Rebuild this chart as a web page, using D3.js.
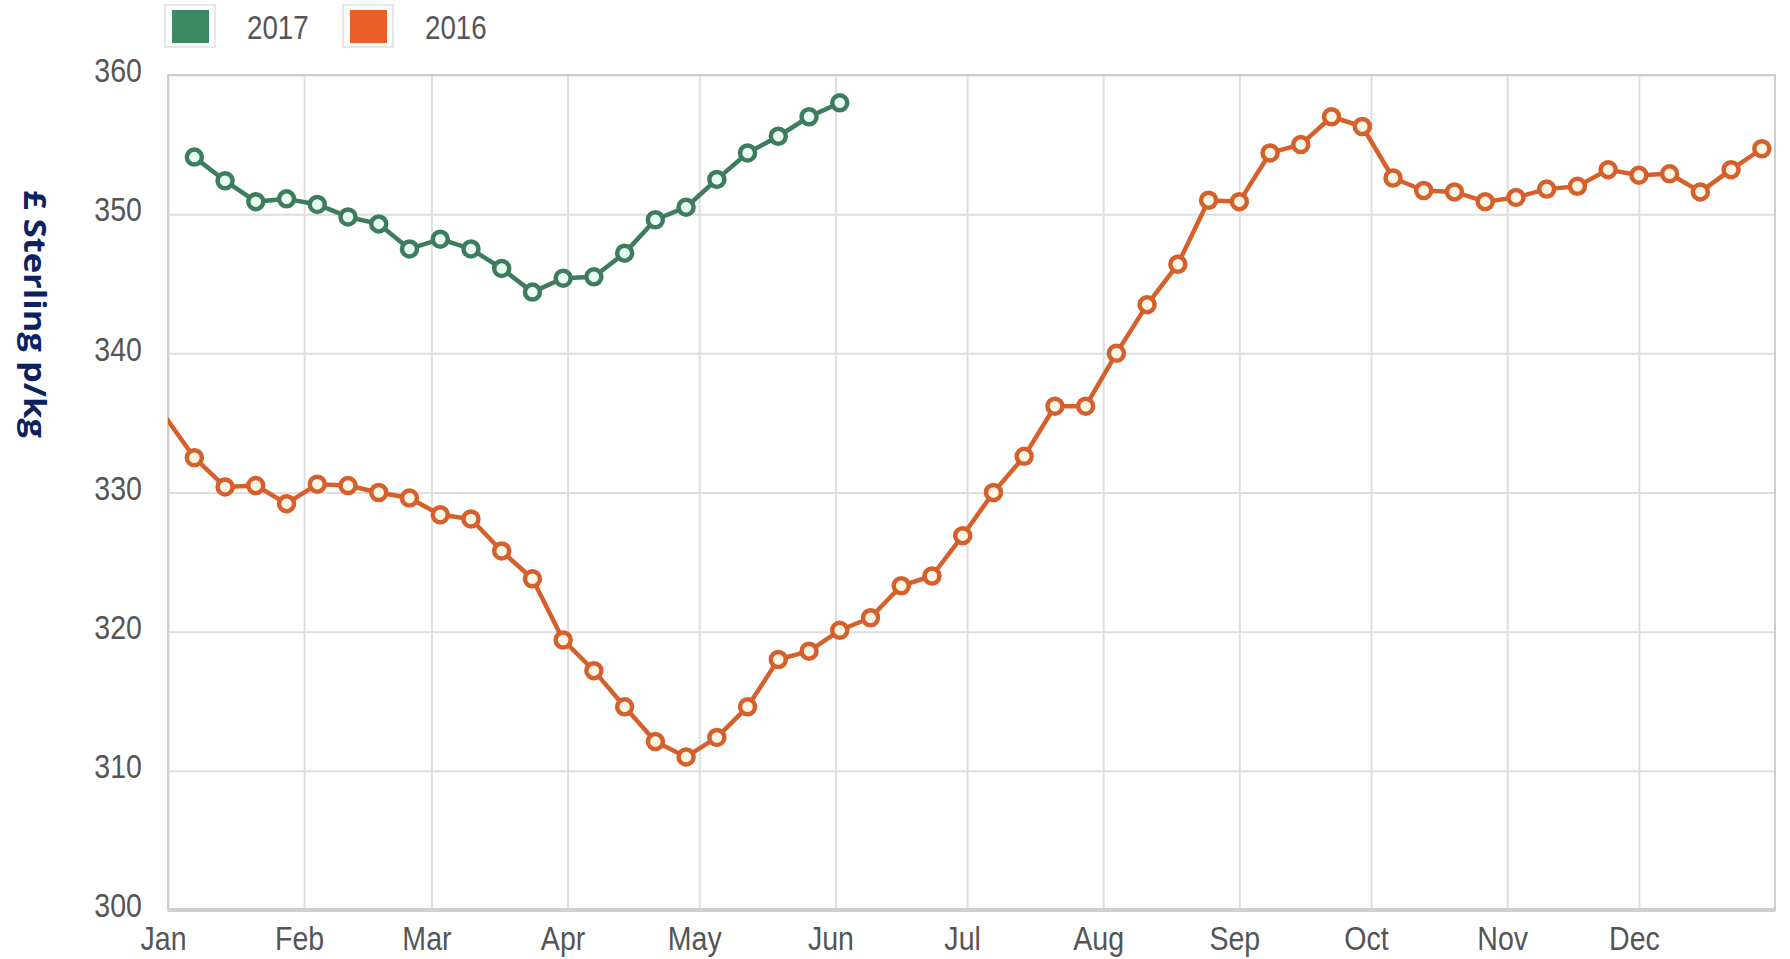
<!DOCTYPE html>
<html>
<head>
<meta charset="utf-8">
<script src="https://cdn.jsdelivr.net/npm/d3@7"></script>
<style>
  body { margin: 0; background: #fff; }
  text { font-family: "Liberation Sans", Arial, sans-serif; }
</style>
</head>
<body>
<svg id="chart" width="1790" height="959"></svg>
<script>
// weekly prices, p/kg
const seriesNames = ["2017", "2016"];
const yTicks = [300, 310, 320, 330, 340, 350, 360];
const firstWeek = "2016-01-07";
const leadIn2016 = { date: "2015-12-31", value: 335.6 };

const values2016 = [
  332.5, 330.4, 330.5, 329.2, 330.6, 330.5, 330.0, 329.6, 328.4, 328.1,
  325.8, 323.8, 319.4, 317.2, 314.6, 312.1, 311.0, 312.4, 314.6, 318.0,
  318.6, 320.1, 321.0, 323.3, 324.0, 326.9, 330.0, 332.6, 336.2, 336.2,
  340.0, 343.5, 346.4, 351.0, 350.9, 354.4, 355.0, 357.0, 356.3, 352.6,
  351.7, 351.6, 350.9, 351.2, 351.8, 352.0, 353.2, 352.8, 352.9, 351.6,
  353.2, 354.7
];

const values2017 = [
  354.1, 352.4, 350.9, 351.1, 350.7, 349.8, 349.3, 347.5, 348.2, 347.5,
  346.1, 344.4, 345.4, 345.5, 347.2, 349.6, 350.5, 352.5, 354.4, 355.6,
  357.0, 358.0
];

const colors = {
  "2017": { line: "#3e7d5c", fill: "#e9fff4", legend: "#3b8a62" },
  "2016": { line: "#d5602c", fill: "#fff7e6", legend: "#e85f2a" }
};

const W = 1790, H = 959;
const margin = { top: 75, right: 15, bottom: 49, left: 168 };
const pw = W - margin.left - margin.right;
const ph = H - margin.top - margin.bottom;
const squeeze = 0.84; // labels in the source are horizontally condensed

const parse = d3.timeParse("%Y-%m-%d");
const start = parse(firstWeek);
const weekDate = i => d3.timeDay.offset(start, 7 * i);

const data2016 = [{ date: parse(leadIn2016.date), value: leadIn2016.value, lead: true }]
  .concat(values2016.map((v, i) => ({ date: weekDate(i), value: v })));
const data2017 = values2017.map((v, i) => ({ date: weekDate(i), value: v }));

const svg = d3.select("#chart");
const g = svg.append("g").attr("transform", `translate(${margin.left},${margin.top})`);

const x0 = new Date(2016, 0, 1), x1 = new Date(2017, 0, 1);
const x = d3.scaleTime().domain([x0, x1]).range([0, pw]);
const y = d3.scaleLinear().domain([300, 360]).range([ph, 0]);

// grid + axes
const xAxis = g.append("g")
  .attr("transform", `translate(0,${ph})`)
  .call(d3.axisBottom(x)
    .tickValues(d3.timeMonth.range(x0, x1))
    .tickFormat(d3.timeFormat("%b"))
    .tickSize(-ph)
    .tickSizeOuter(0));
xAxis.select(".domain").remove();
xAxis.selectAll(".tick line").attr("stroke", "#dedede").attr("stroke-width", 2);
xAxis.selectAll(".tick text")
  .attr("x", 0).attr("y", 0).attr("dy", 0)
  .attr("transform", `translate(-5,40) scale(${squeeze},1)`)
  .attr("fill", "#555").style("font-size", "34px");

const yAxis = g.append("g")
  .call(d3.axisLeft(y)
    .tickValues(yTicks)
    .tickSize(-pw)
    .tickSizeOuter(0));
yAxis.select(".domain").remove();
yAxis.selectAll(".tick line").attr("stroke", "#dedede").attr("stroke-width", 2);
yAxis.selectAll(".tick text")
  .attr("x", 0).attr("dy", "0.2em")
  .attr("transform", `translate(-26,0) scale(${squeeze},1)`)
  .attr("fill", "#555").style("font-size", "34px");

// frame
g.append("rect")
  .attr("width", pw).attr("height", ph)
  .attr("fill", "none").attr("stroke", "#cdcdcd").attr("stroke-width", 2);
g.append("line")
  .attr("x1", 0).attr("x2", pw).attr("y1", ph).attr("y2", ph)
  .attr("stroke", "#cfcfcf").attr("stroke-width", 4);

// clip
svg.append("clipPath").attr("id", "plotclip")
  .append("rect").attr("width", pw).attr("height", ph);

const line = d3.line().x(d => x(d.date)).y(d => y(d.value));

function drawSeries(name, data) {
  const c = colors[name];
  const s = g.append("g");
  s.append("path")
    .datum(data)
    .attr("clip-path", "url(#plotclip)")
    .attr("fill", "none")
    .attr("stroke", c.line)
    .attr("stroke-width", 4.5)
    .attr("stroke-linejoin", "round")
    .attr("d", line);
  s.selectAll("circle")
    .data(data.filter(d => !d.lead))
    .join("circle")
    .attr("cx", d => x(d.date))
    .attr("cy", d => y(d.value))
    .attr("r", 7.5)
    .attr("fill", c.fill)
    .attr("stroke", c.line)
    .attr("stroke-width", 4.5);
}

drawSeries("2016", data2016);
drawSeries("2017", data2017);

// y axis title
svg.append("text")
  .attr("transform", "translate(24,314) rotate(90)")
  .attr("text-anchor", "middle")
  .attr("textLength", 248)
  .attr("lengthAdjust", "spacingAndGlyphs")
  .style("font-family", "'Open Sans', 'DejaVu Sans', sans-serif")
  .style("font-weight", "bold")
  .style("font-size", "30px")
  .attr("fill", "#0d2160")
  .text("£ Sterling p/kg");

// legend
const legendX = [165, 343];
const legend = svg.append("g");
seriesNames.forEach((name, i) => {
  const lg = legend.append("g").attr("transform", `translate(${legendX[i]},5)`);
  lg.append("rect")
    .attr("width", 50).attr("height", 42)
    .attr("fill", "#fff").attr("stroke", "#cfcfcf").attr("stroke-width", 1);
  lg.append("rect")
    .attr("x", 7).attr("y", 5)
    .attr("width", 37).attr("height", 33)
    .attr("fill", colors[name].legend);
  lg.append("text")
    .attr("transform", `translate(82,34) scale(${squeeze},1)`)
    .attr("fill", "#555")
    .style("font-size", "33px")
    .text(name);
});
</script>
</body>
</html>
